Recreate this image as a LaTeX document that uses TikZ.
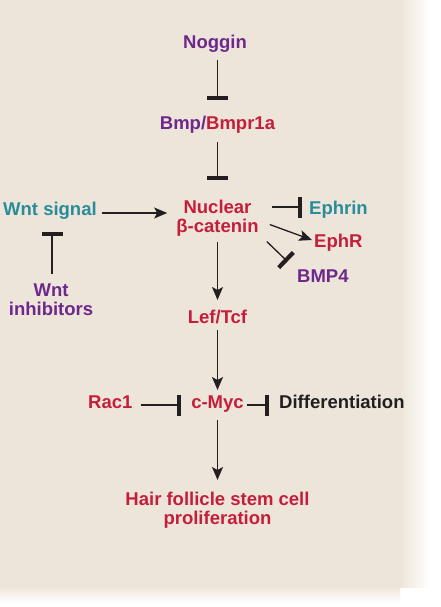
\documentclass[tikz,border=0pt]{standalone}
\usepackage{fontspec}
\setmainfont{Liberation Sans}
\usetikzlibrary{arrows.meta,calc}
\definecolor{bg}{RGB}{237,229,217}
\definecolor{cpurple}{RGB}{110,40,140}
\definecolor{cred}{RGB}{196,30,58}
\definecolor{cteal}{RGB}{40,140,155}
\definecolor{cblack}{RGB}{35,31,32}
\begin{document}
\begin{tikzpicture}[x=1pt,y=1pt,
  txt/.style={inner sep=0pt, font=\bfseries\fontsize{18.5}{19}\selectfont},
  mtxt/.style={txt, align=center, anchor=north},
  act/.style={draw=cblack, line width=1.3pt, -{Stealth[length=13pt,width=11pt,inset=3pt]}},
  inh/.style={draw=cblack, line width=1.3pt, -{Bar[width=21pt,line width=4.2pt]}}]
\useasboundingbox (0,0) rectangle (440,-607);
\fill[white] (0,0) rectangle (440,-607);
\fill[bg] (0,0) rectangle (400,-587);
\shade[left color=bg, right color=white] (399.5,0) rectangle (430,-587);
\shade[top color=bg, bottom color=white] (0,-586.5) rectangle (400,-603);

% nodes
\node[txt, anchor=base, text=cpurple] (nog) at (215,-49) {Noggin};
\node[txt, anchor=base] (bmp) at (217.5,-129) {\color{cpurple}Bmp/\color{cred}Bmpr1a};
\node[mtxt, text=cred] (nuc) at (217.5,-199.7) {Nuclear\\β-catenin};
\node[txt, anchor=base west, text=cteal] (wnt) at (3,-215) {Wnt signal};
\node[mtxt, text=cpurple] (inhib) at (51,-283.7) {Wnt\\inhibitors};
\node[txt, anchor=base west, text=cteal] (eph) at (309,-214) {Ephrin};
\node[txt, anchor=base west, text=cred] (ephr) at (314,-247) {EphR};
\node[txt, anchor=base west, text=cpurple] (bmp4) at (297,-282) {BMP4};
\node[txt, anchor=base, text=cred] (lef) at (217.5,-323) {Lef/Tcf};
\node[txt, anchor=base, text=cred] (myc) at (217.5,-408) {c-Myc};
\node[txt, anchor=base west, text=cred] (rac) at (88,-408) {Rac1};
\node[txt, anchor=base west, text=cblack] (diff) at (279,-408) {Differentiation};
\node[mtxt, text=cred] (hair) at (217.5,-491.6) {Hair follicle stem cell\\proliferation};

% connectors
\draw[inh] ($(nog.base -| bmp.base)+(0,-11)$) -- ($(bmp.base)+(0,29)$);
\draw[inh] ($(bmp.base)+(0,-13)$) -- ($(nuc.north -| bmp.base)+(0,19.5)$);
\draw[act] ($(wnt.base east)+(5,2)$) -- ($(nuc.west |- wnt.base)+(-9,2)$);
\draw[inh] ($(inhib.north)+(1,10)$) -- ($(wnt.base -| inhib.north)+(1,-17)$);
\draw[inh] ($(nuc.east |- eph.base)+(13,7)$) -- ($(eph.base west)+(-7,7)$);
\draw[act] ($(nuc.south east)+(11,11.8)$) -- ($(ephr.base west)+(-2,7)$);
\draw[inh] ($(nuc.south east)+(8,-5.2)$) -- ($(bmp4.base west)+(-9.5,20.5)$);
\draw[act] ($(nuc.south)+(0,-5.2)$) -- ($(lef.base)+(0,23)$);
\draw[act] ($(lef.base)+(0,-7)$) -- ($(myc.base)+(0,18)$);
\draw[inh] ($(rac.base east)+(8,3)$) -- ($(myc.base west)+(-10,3)$);
\draw[inh] ($(myc.base east)+(3,3)$) -- ($(diff.base west)+(-10,3)$);
\draw[act] ($(myc.base)+(0,-12)$) -- ($(hair.north)+(0,11.6)$);
\end{tikzpicture}
\end{document}
